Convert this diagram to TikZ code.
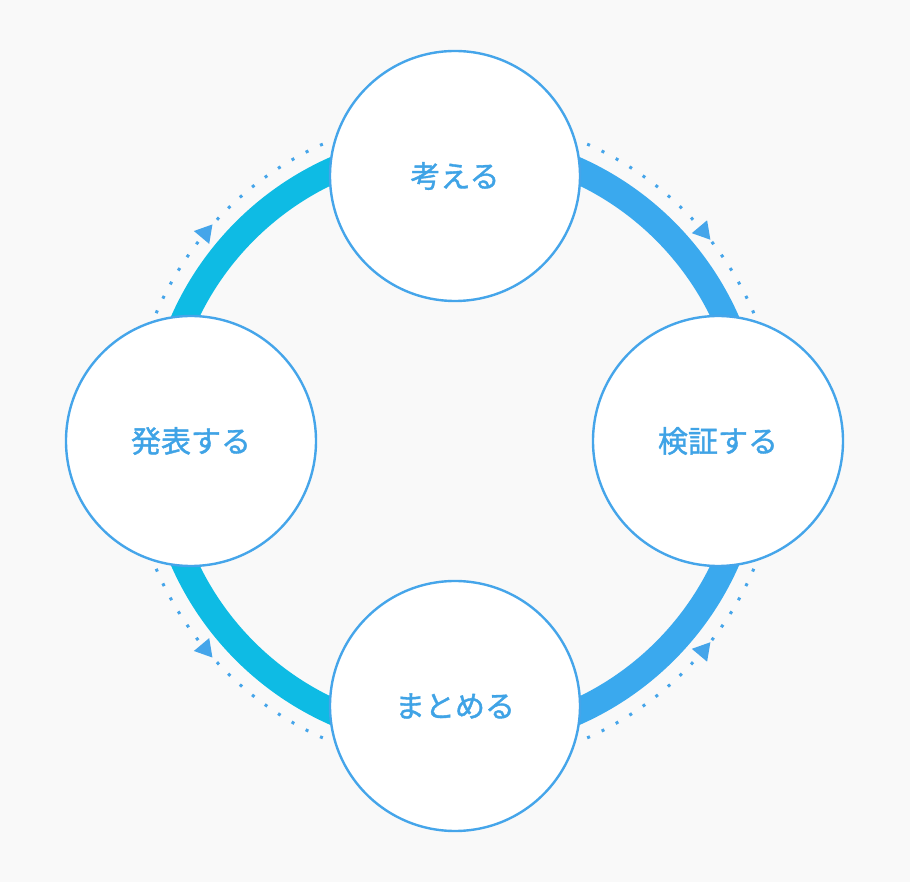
\documentclass[tikz,border=0pt]{standalone}
\usepackage{fontspec}
\newfontfamily\jp[FakeBold=1.3]{Noto Sans CJK JP}
\definecolor{bg}{HTML}{F9F9F9}
\definecolor{blueR}{HTML}{3AA9EE}
\definecolor{cyanL}{HTML}{0EBBE4}
\definecolor{edge}{HTML}{45A5EA}
\definecolor{txt}{HTML}{3FA3E6}
\begin{document}
\begin{tikzpicture}[x=1pt,y=1pt,
  stage/.style={circle,draw=edge,line width=2.4pt,fill=white,minimum size=250pt,inner sep=0pt,font=\jp\fontsize{30}{34}\selectfont,text=txt},
  band/.style={line width=26pt},
  dots/.style={draw=edge,line width=3pt,dash pattern=on 3pt off 13pt},
  tri/.style={fill=edge}]
\fill[bg] (-455,-441) rectangle (455,441);
\useasboundingbox (-455,-441) rectangle (455,441);
% ring
\draw[band,blueR] (0,297) arc[start angle=90,end angle=-90,radius=297];
\draw[band,cyanL] (0,297) arc[start angle=90,end angle=270,radius=297];
% dotted arcs
\draw[dots] (66:325) arc[start angle=66,end angle=21,radius=325];
\draw[dots] (114:325) arc[start angle=114,end angle=159,radius=325];
\draw[dots] (-66:325) arc[start angle=-66,end angle=-21,radius=325];
\draw[dots] (-114:325) arc[start angle=-114,end angle=-159,radius=325];
% arrowheads
\fill[tri,shift={(40:325)},rotate=-50] (10,0)--(-7,10)--(-7,-10)--cycle;
\fill[tri,shift={(140:325)},rotate=50] (10,0)--(-7,10)--(-7,-10)--cycle;
\fill[tri,shift={(220:325)},rotate=-50] (10,0)--(-7,10)--(-7,-10)--cycle;
\fill[tri,shift={(-40:325)},rotate=50] (10,0)--(-7,10)--(-7,-10)--cycle;
% nodes
\node[stage] (think) at (0,265) {考える};
\node[stage] (verify) at (263,0) {検証する};
\node[stage] (summ) at (0,-265) {まとめる};
\node[stage] (pres) at (-264,0) {発表する};
\end{tikzpicture}
\end{document}
